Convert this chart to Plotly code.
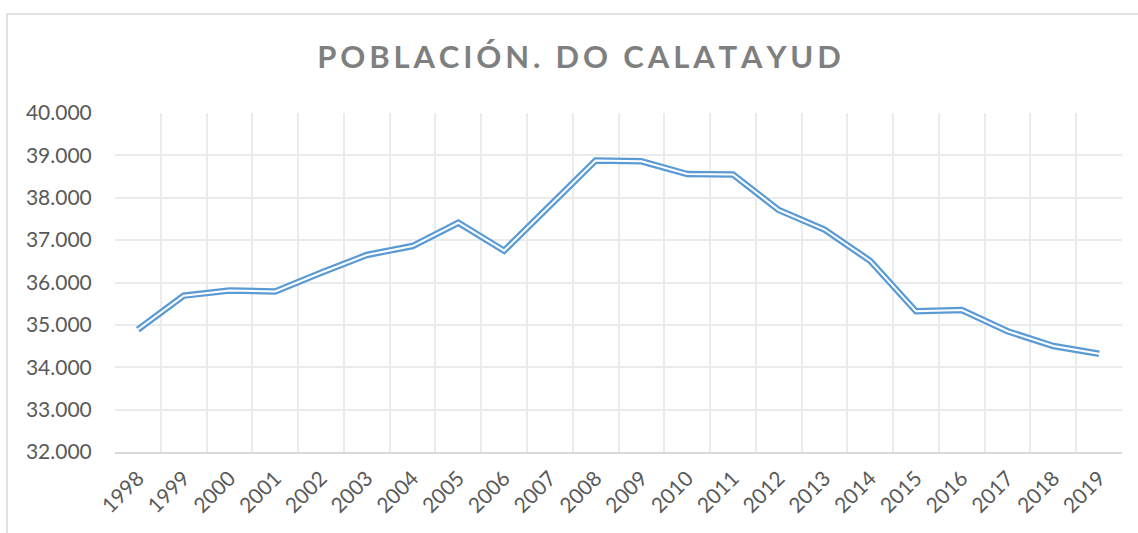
import plotly.graph_objects as go

years = [str(y) for y in range(1998, 2020)]
population = [34890, 35690, 35810, 35790, 36230, 36650, 36860, 37410, 36750, 37820,
              38880, 38860, 38560, 38550, 37710, 37250, 36510, 35320, 35350, 34850,
              34500, 34320]
y_ticks = [32000, 33000, 34000, 35000, 36000, 37000, 38000, 39000, 40000]
y_labels = ["32.000", "33.000", "34.000", "35.000", "36.000", "37.000", "38.000", "39.000", "40.000"]

title_text = "POBLACIÓN. DO CALATAYUD"
spaced_title = "\u2009".join(list(title_text))

fig = go.Figure()
fig.add_trace(go.Scatter(x=years, y=population, mode="lines",
                         line=dict(color="#5b9bd5", width=6.5), showlegend=False, hoverinfo="skip"))
fig.add_trace(go.Scatter(x=years, y=population, mode="lines",
                         line=dict(color="white", width=2), showlegend=False,
                         name="Población"))

W, H = 1138, 533
L, R, T, B = 115, 16, 113, 81
pw, ph = W - L - R, H - T - B

fig.update_layout(
    width=W, height=H,
    margin=dict(l=L, r=R, t=T, b=B),
    paper_bgcolor="white", plot_bgcolor="white",
    font=dict(family="Lato, 'Open Sans', sans-serif", color="#595959", size=21),
    title=dict(text=spaced_title, x=579 / W, xref="container",
               xanchor="center", y=1 - 57 / H, yanchor="middle",
               font=dict(family="Lato, 'Open Sans', sans-serif", size=31, color="#7f7f7f", weight="bold")),
    separators=",.",
    xaxis=dict(type="category", range=[-0.5, len(years) - 0.5], tickson="boundaries",
               showgrid=True, gridcolor="#ebebeb", gridwidth=1.5,
               tickangle=-45, ticks="", ticklabelstandoff=4,
               showline=True, linecolor="#d9d9d9", linewidth=1.5, automargin=False,
               tickfont=dict(size=21, color="#595959"), fixedrange=True),
    yaxis=dict(range=[32000, 40000], tickvals=y_ticks, ticktext=y_labels, showgrid=True,
               gridcolor="#ebebeb", gridwidth=1.5, zeroline=False,
               ticks="outside", ticklen=18, tickcolor="rgba(0,0,0,0)", automargin=False,
               tickfont=dict(size=21, color="#595959"), showline=False, fixedrange=True),
    shapes=[dict(type="rect", xref="paper", yref="paper",
                 x0=(7 - L) / pw, x1=(W + 20 - L) / pw,
                 y0=-(H + 20 - T - ph) / ph - 0.1, y1=1 + (T - 14) / ph,
                 line=dict(color="#d9d9d9", width=1.5), fillcolor="rgba(0,0,0,0)", layer="below")],
)

fig.write_html("out.html", config={"displayModeBar": False},
               post_script="document.body.style.margin='0';document.body.style.overflow='hidden';")
